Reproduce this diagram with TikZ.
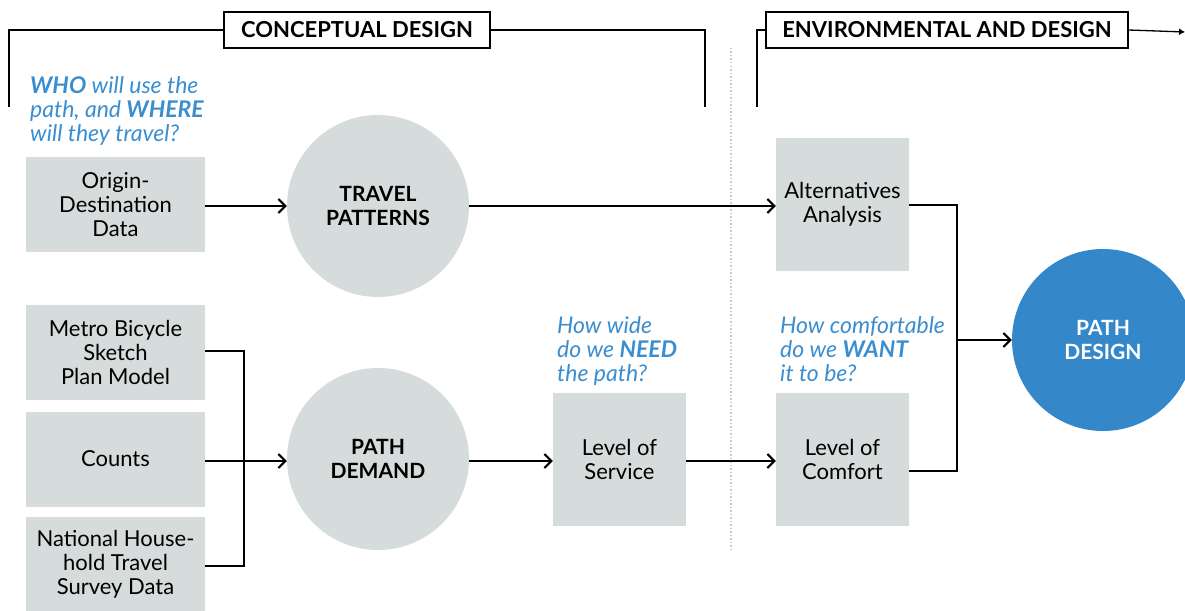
\documentclass[tikz,border=0pt]{standalone}
\usepackage{fontspec}
\setmainfont{Lato}
\usepackage{tikz}
\usetikzlibrary{arrows.meta,positioning,calc}
\usepackage{xcolor}
\definecolor{boxgray}{RGB}{213,220,219}
\definecolor{askblue}{RGB}{58,142,208}
\definecolor{designblue}{RGB}{52,135,201}
\definecolor{dotgray}{RGB}{200,200,200}

\tikzset{
  infobox/.style={fill=boxgray,inner sep=0pt,align=center,font=\fontsize{22}{24}\selectfont},
  bigbox/.style={infobox,minimum width=179pt,minimum height=95pt},
  smallbox/.style={infobox,minimum width=133pt,minimum height=133pt},
  stagecirc/.style={circle,fill=boxgray,minimum size=182pt,inner sep=0pt,align=center,
    font=\fontsize{21}{24}\selectfont\bfseries},
  header/.style={draw,line width=1.3pt,minimum width=266pt,minimum height=36pt,inner sep=0pt,
    font=\fontsize{22}{24}\selectfont\bfseries},
  askme/.style={anchor=north west,align=left,inner sep=0pt,text=askblue,
    font=\fontsize{23}{24}\selectfont\itshape},
  flow/.style={line width=2pt,-{Straight Barb[length=7pt,width=14pt,line width=2pt]}},
  joint/.style={line width=2pt},
  frame/.style={line width=1.3pt}
}

\begin{document}
\begin{tikzpicture}[x=1pt,y=-1pt]
\useasboundingbox (0,0) rectangle (1185,610);

% phase headers
\node[header] (concept) at (357,30) {CONCEPTUAL DESIGN};
\node[header,minimum width=362pt] (envhead) at (947,30) {ENVIRONMENTAL AND DESIGN};
\coordinate (cdl) at (9,107);
\coordinate (cdr) at (705,107);
\coordinate (edl) at (757,107);
\coordinate (envend) at (1185,32);
\draw[frame] (cdl) |- (concept.west);
\draw[frame] (concept.east) -| (cdr);
\draw[frame] (edl) |- (envhead.west);
\draw[frame,-{Latex[length=6pt,width=7pt]}] (envhead.east) -- (envend);
\coordinate (dtop) at (731,48);
\coordinate (dbot) at (731,550);
\draw[dotgray,line width=1.5pt,dotted] (dtop) -- (dbot);

% questions
\node[askme] (askwho) at (30,76) {\textbf{WHO} will use the\\path, and \textbf{WHERE}\\will they travel?};
\node[askme] (askwide) at (557,316) {How wide\\do we \textbf{NEED}\\the path?};
\node[askme] (askcomf) at (780,316) {How comfortable\\do we \textbf{WANT}\\it to be?};

% inputs
\node[bigbox] (origin) at (115.5,204.5) {Origin-\\Destination\\Data};
\node[bigbox] (metro) at (115.5,352) {Metro Bicycle\\Sketch\\Plan Model};
\node[bigbox] (counts) at (115.5,459) {Counts};
\node[bigbox] (nhts) at (115.5,564) {National House-\\hold Travel\\Survey Data};

% stages
\node[stagecirc] (travel) at (378,206) {TRAVEL\\PATTERNS};
\node[stagecirc] (demand) at (378,459) {PATH\\DEMAND};
\node[smallbox] (service) at (619.5,459) {Level of\\Service};
\node[smallbox] (altern) at (842.5,204.5) {Alternatives\\Analysis};
\node[smallbox] (comfort) at (842.5,459) {Level of\\Comfort};
\node[stagecirc,fill=designblue,text=white] (design) at (1103,340) {PATH\\DESIGN};

% connectors
\coordinate (mjoin) at (244,351);
\coordinate (djoin) at (957,340);
\draw[joint] (metro.east |- mjoin) -- (mjoin) -- ($(mjoin)+(0,215)$) -- (nhts.east |- 0,566);
\draw[flow] (counts.east |- 0,461) -- (demand.west |- 0,461);
\draw[flow] (origin.east |- travel) -- (travel);
\draw[flow] (travel) -- (altern.west |- travel);
\draw[flow] (demand.east |- 0,461) -- (service.west |- 0,461);
\draw[flow] (service.east |- 0,461) -- (comfort.west |- 0,461);
\draw[joint] (altern.east) -| ($(djoin)+(0,131)$) -- (comfort.east |- 0,471);
\draw[flow] (djoin) -- (design);
\end{tikzpicture}
\end{document}
